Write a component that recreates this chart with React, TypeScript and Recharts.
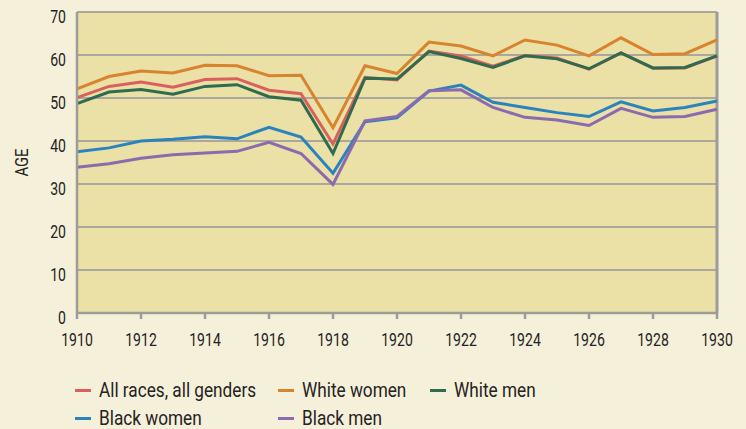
import { CartesianGrid, Legend, Line, LineChart, ReferenceLine, XAxis, YAxis } from 'recharts';

const years = [1910, 1911, 1912, 1913, 1914, 1915, 1916, 1917, 1918, 1919, 1920, 1921, 1922, 1923, 1924, 1925, 1926, 1927, 1928, 1929, 1930];

const allRaces = [50.1, 52.7, 53.7, 52.5, 54.3, 54.5, 51.8, 51.0, 39.3, 54.8, 54.2, 60.9, 59.8, 57.4, 59.9, 59.3, 56.7, 60.5, 56.9, 57.0, 59.8];
const whiteWomen = [52.1, 55.0, 56.3, 55.8, 57.6, 57.5, 55.2, 55.3, 43.1, 57.5, 55.7, 63.0, 62.1, 59.8, 63.5, 62.3, 59.8, 64.0, 60.1, 60.3, 63.5];
const whiteMen = [48.7, 51.4, 52.0, 50.9, 52.7, 53.1, 50.3, 49.5, 37.1, 54.6, 54.4, 60.8, 59.2, 57.1, 59.8, 59.1, 56.8, 60.5, 57.0, 57.1, 59.8];
const blackWomen = [37.5, 38.4, 40.0, 40.4, 41.0, 40.5, 43.2, 40.9, 32.5, 44.5, 45.4, 51.6, 53.0, 49.0, 47.8, 46.6, 45.7, 49.1, 47.0, 47.8, 49.3];
const blackMen = [33.9, 34.7, 36.0, 36.8, 37.2, 37.6, 39.7, 37.1, 29.9, 44.7, 45.7, 51.7, 51.9, 47.8, 45.5, 44.9, 43.6, 47.6, 45.5, 45.7, 47.4];

const xTicks = [1910, 1912, 1914, 1916, 1918, 1920, 1922, 1924, 1926, 1928, 1930];
const yTicks = [0, 10, 20, 30, 40, 50, 60, 70];

const series = [
  { key: 'all', name: 'All races, all genders', color: '#d9605c' },
  { key: 'ww', name: 'White women', color: '#d8832e' },
  { key: 'wm', name: 'White men', color: '#2e6b4f' },
  { key: 'bw', name: 'Black women', color: '#2a83be' },
  { key: 'bm', name: 'Black men', color: '#8c6aae' },
];

const data = years.map((year, i) => ({
  year,
  all: allRaces[i],
  ww: whiteWomen[i],
  wm: whiteMen[i],
  bw: blackWomen[i],
  bm: blackMen[i],
}));

// condensed look: Roboto squeezed horizontally
const FONT = 'Roboto, "Noto Sans", sans-serif';
const TEXT = '#252223';
const AXIS = '#9c9c98';
const SQUEEZE = 0.74;

function XTick({ x, y, payload }: any) {
  return (
    <text transform={`translate(${x},${y + 25}) scale(${SQUEEZE},1)`} textAnchor="middle" fill={TEXT} fontSize={19} fontFamily={FONT}>
      {payload.value}
    </text>
  );
}

function YTick({ x, y, payload }: any) {
  return (
    <text transform={`translate(${x},${y + 10.5}) scale(${SQUEEZE},1)`} textAnchor="end" fill={TEXT} fontSize={19} fontFamily={FONT}>
      {payload.value}
    </text>
  );
}

function AgeLabel({ viewBox }: any) {
  const cy = viewBox.y + viewBox.height / 2;
  return (
    <text transform={`translate(21,${cy}) rotate(-90) scale(0.78,1)`} textAnchor="middle" dominantBaseline="central" fill={TEXT} fontSize={19} fontFamily={FONT}>
      AGE
    </text>
  );
}

function LegendBox() {
  const cols = [75, 278, 430];
  return (
    <div style={{ position: 'relative', width: 746, height: 48, fontFamily: FONT, fontSize: 20, color: TEXT }}>
      {series.map((s, i) => (
        <div
          key={s.key}
          style={{
            position: 'absolute',
            left: cols[i % 3],
            top: Math.floor(i / 3) * 28,
            height: 20,
            lineHeight: '20px',
            whiteSpace: 'nowrap',
          }}
        >
          <span style={{ position: 'absolute', left: 0, top: 9, width: 16, height: 3, background: s.color }} />
          <span style={{ position: 'absolute', left: 24, top: 0, transform: 'scaleX(0.86)', transformOrigin: 'left center' }}>{s.name}</span>
        </div>
      ))}
    </div>
  );
}

export default function App() {
  return (
    <div style={{ position: 'absolute', left: 0, top: 0, width: 746, height: 429, background: '#f5f0da' }}>
      <LineChart width={746} height={429} data={data} margin={{ top: 12, right: 29, bottom: 86, left: 15 }}>
        <CartesianGrid vertical={false} fill="#ebe0a6" stroke="#aaa79c" strokeWidth={2} />
        <XAxis
          dataKey="year"
          type="number"
          domain={[1910, 1930]}
          ticks={xTicks}
          height={30}
          interval={0}
          axisLine={{ stroke: AXIS, strokeWidth: 2.5 }}
          tickLine={{ stroke: AXIS, strokeWidth: 2.5 }}
          tickSize={6}
          tickMargin={2}
          tick={<XTick />}
        />
        <YAxis
          type="number"
          domain={[0, 70]}
          ticks={yTicks}
          width={62}
          interval={0}
          axisLine={{ stroke: AXIS, strokeWidth: 2.5 }}
          tickLine={false}
          tickSize={6}
          tickMargin={5}
          tick={<YTick />}
          label={<AgeLabel />}
        />
        <ReferenceLine x={1930} stroke={AXIS} strokeWidth={3} />
        <Legend layout="horizontal" verticalAlign="middle" align="center" wrapperStyle={{ left: 0, top: 380, width: 746 }} content={() => <LegendBox />} />
        {series.map((s) => (
          <Line key={s.key} dataKey={s.key} name={s.name} stroke={s.color} strokeWidth={3} dot={false} activeDot={false} isAnimationActive={false} />
        ))}
      </LineChart>
    </div>
  );
}
